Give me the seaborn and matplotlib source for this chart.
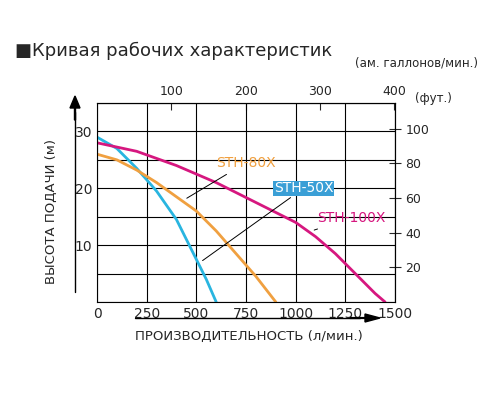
import matplotlib
matplotlib.use("Agg")
import matplotlib.pyplot as plt
import seaborn as sns
import pandas as pd

flow_50 = [0, 100, 200, 250, 300, 400, 500, 550, 600]
head_50 = [29, 27, 23.5, 21.5, 19.5, 14.5, 7.5, 4, 0]
flow_80 = [0, 100, 200, 300, 400, 500, 600, 700, 800, 900]
head_80 = [26, 25, 23.2, 21, 18.5, 16, 12.5, 8.5, 4.5, 0]
flow_100 = [0, 200, 400, 600, 800, 1000, 1100, 1200, 1300, 1400, 1450]
head_100 = [28, 26.5, 24, 21, 17.5, 14, 11.5, 8.5, 5, 1.5, 0]
models = ["STH-50X", "STH-80X", "STH-100X"]
colors = {"STH-50X": "#29b5e0", "STH-80X": "#f0a040", "STH-100X": "#d6177f"}

df = pd.concat([
    pd.DataFrame({"flow": flow_50, "head": head_50, "model": models[0]}),
    pd.DataFrame({"flow": flow_80, "head": head_80, "model": models[1]}),
    pd.DataFrame({"flow": flow_100, "head": head_100, "model": models[2]}),
])

sns.set_style("white")
fig = plt.figure(figsize=(5, 4), dpi=100)
ax = fig.add_axes([0.194, 0.245, 0.596, 0.4975])
sns.lineplot(data=df, x="flow", y="head", hue="model", palette=colors,
             linewidth=2, legend=False, ax=ax, sort=False)
ax.set_xlim(0, 1500)
ax.set_ylim(0, 35)
ax.set_xticks(range(0, 1501, 250))
ax.set_yticks(range(0, 36, 5))
ax.set_yticklabels(["" if v not in (10, 20, 30) else str(v) for v in range(0, 36, 5)])
ax.grid(True, color="black", linewidth=0.8)
for s in ax.spines.values():
    s.set_color("black"); s.set_linewidth(0.8)
ax.tick_params(labelsize=10, length=0)
ax.set_xlabel(""); ax.set_ylabel("")

top = ax.secondary_xaxis("top", functions=(lambda x: x / 3.74, lambda g: g * 3.74))
top.set_xticks([100, 200, 300, 400])
top.tick_params(labelsize=9, direction="in", length=5)
right = ax.secondary_yaxis("right", functions=(lambda m: m * 3.281, lambda f: f / 3.281))
right.set_yticks([20, 40, 60, 80, 100])
right.tick_params(labelsize=9, direction="inout", length=8)

fig.text(0.03, 0.86, "■Кривая рабочих характеристик", fontsize=13)
fig.text(0.71, 0.835, "(ам. галлонов/мин.)", fontsize=8.5)
fig.text(0.83, 0.745, "(фут.)", fontsize=8.5)

ax.annotate("STH-80X", xy=(440, 18), xytext=(600, 24.5), color=colors["STH-80X"], fontsize=10,
            va="center", arrowprops=dict(arrowstyle="-", color="black", lw=0.7))
ax.annotate("STH-50X", xy=(520, 7), xytext=(890, 20), color="white", fontsize=10, va="center",
            bbox=dict(boxstyle="square,pad=0.05", fc="#3a9fd6", ec="none"),
            arrowprops=dict(arrowstyle="-", color="black", lw=0.7))
ax.annotate("STH-100X", xy=(1080, 12.5), xytext=(1110, 14.8), color=colors["STH-100X"], fontsize=10,
            va="center", arrowprops=dict(arrowstyle="-", color="black", lw=0.7))

fig.text(0.27, 0.15, "ПРОИЗВОДИТЕЛЬНОСТЬ (л/мин.)", fontsize=9.5)
fig.add_artist(plt.Line2D([0.27, 0.72], [0.205, 0.205], color="black", lw=1))
fig.add_artist(matplotlib.patches.FancyArrow(0.70, 0.205, 0.03, 0, width=0.002, head_width=0.02,
                                             head_length=0.03, color="black"))
fig.text(0.09, 0.47, "ВЫСОТА ПОДАЧИ (м)", fontsize=9.5, rotation=90, va="center")
fig.add_artist(plt.Line2D([0.15, 0.15], [0.27, 0.72], color="black", lw=1))
fig.add_artist(matplotlib.patches.FancyArrow(0.15, 0.70, 0, 0.03, width=0.002, head_width=0.02,
                                             head_length=0.03, color="black"))
fig.savefig("out.png", dpi=100)
